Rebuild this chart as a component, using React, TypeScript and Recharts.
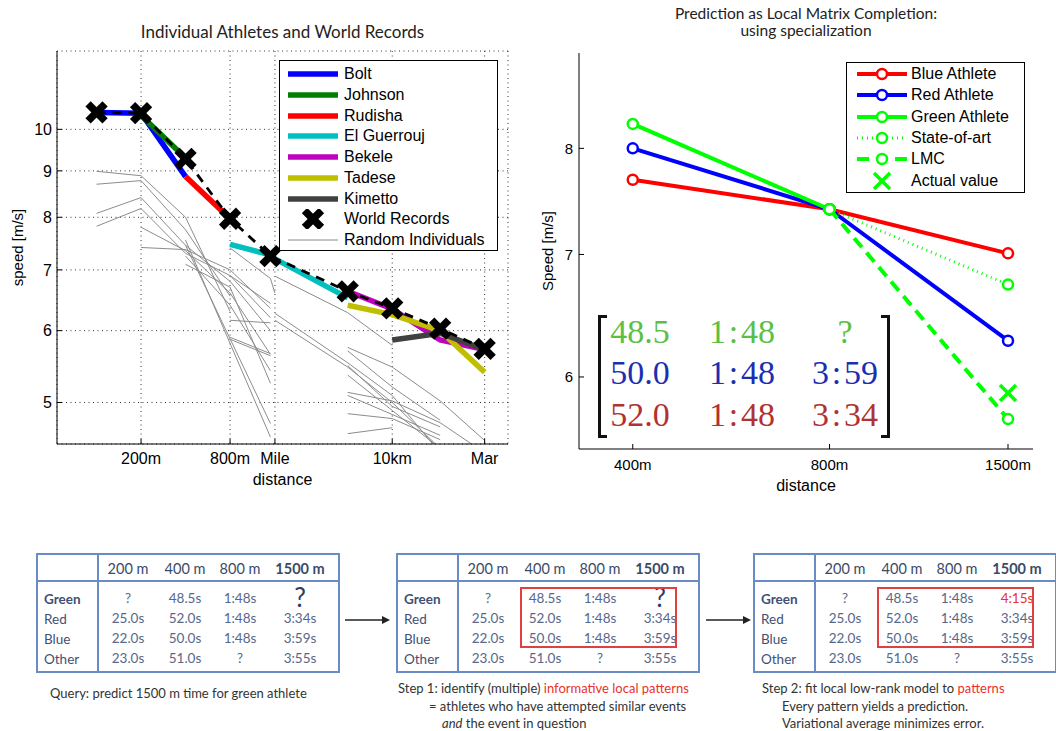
import React from "react";
import {
  ComposedChart,
  Line,
  Scatter,
  XAxis,
  YAxis,
  CartesianGrid,
  Legend,
  Label,
} from "recharts";

// ---------- left panel: distance [m] vs speed [m/s] ----------
const recordDist = [100, 200, 400, 800, 1500, 5000, 10000, 21097, 42195];
const recordSpeed = [10.44, 10.42, 9.28, 7.97, 7.25, 6.63, 6.35, 6.03, 5.73];

const bolt = [[100, 10.44], [200, 10.42], [400, 8.87]];
const johnson = [[200, 10.36], [400, 9.3]];
const rudisha = [[400, 8.87], [800, 7.97]];
const elGuerrouj = [[800, 7.47], [1500, 7.27], [1609, 7.2], [5000, 6.52]];
const bekele = [[5000, 6.63], [10000, 6.34], [21097, 5.86], [42195, 5.72]];
const tadese = [[5000, 6.4], [10000, 6.25], [21097, 6.0], [42195, 5.4]];
const kimetto = [[10000, 5.86], [21097, 5.96], [42195, 5.72]];

const athleteNames = ["Bolt", "Johnson", "Rudisha", "El Guerrouj", "Bekele", "Tadese", "Kimetto"];
const athleteColors = ["#0000ff", "#007f00", "#ff0000", "#00bfbf", "#bf00bf", "#bfbf00", "#404040"];

const randomIndividuals = [
  [[100, 8.99], [200, 8.89], [400, 8.0], [800, 6.3]],
  [[100, 8.7], [200, 8.78], [400, 7.75], [800, 6.55]],
  [[100, 8.08], [200, 8.41], [400, 7.45], [800, 6.8], [1500, 6.0]],
  [[100, 7.82], [200, 8.18], [400, 7.3], [800, 6.9], [1500, 6.2]],
  [[200, 7.8], [400, 7.35], [800, 6.6], [1500, 5.65]],
  [[200, 7.41], [400, 7.37], [800, 7.0], [1500, 6.35]],
  [[400, 7.55], [1500, 4.58]],
  [[400, 7.45], [1500, 4.74]],
  [[400, 7.25], [800, 6.4], [1500, 5.42]],
  [[400, 7.1], [800, 6.7], [1500, 5.25]],
  [[800, 7.4], [1500, 6.85], [1609, 6.6]],
  [[800, 6.16], [1500, 6.12]],
  [[800, 5.9], [1500, 5.66]],
  [[800, 5.87], [1500, 5.63]],
  [[800, 6.9], [1500, 6.43]],
  [[1609, 6.89], [5000, 6.28], [10000, 5.78]],
  [[1609, 6.27], [5000, 5.53], [10000, 5.09], [21097, 4.4]],
  [[1609, 6.16], [5000, 5.47], [10000, 5.0], [21097, 4.45]],
  [[5000, 5.75], [10000, 5.47], [21097, 5.02], [42195, 4.54]],
  [[5000, 5.7], [10000, 5.2], [21097, 4.78]],
  [[5000, 5.49], [10000, 4.95], [21097, 4.7]],
  [[5000, 5.36], [10000, 4.9], [21097, 4.45]],
  [[5000, 5.13], [10000, 5.02], [21097, 4.75], [42195, 4.4]],
  [[5000, 5.09], [10000, 4.85], [21097, 4.6]],
  [[5000, 4.86], [10000, 4.8], [21097, 4.55]],
  [[5000, 4.62], [10000, 4.69]],
];

const leftTicks = [200, 800, 1609, 10000, 42195];
const leftTickLabels = ["200m", "800m", "Mile", "10km", "Mar"];
const leftSpeedTicks = [5, 6, 7, 8, 9, 10];

// ---------- right panel ----------
const rightEvents = [400, 800, 1500];
const rightTickLabels = ["400m", "800m", "1500m"];
const rightSpeedTicks = [6, 7, 8];
const blueAthlete = [7.69, 7.41, 7.01];
const redAthlete = [8.0, 7.41, 6.28];
const greenAthlete = [8.25, 7.41];
const stateOfArt = [[800, 7.41], [1500, 6.74]];
const lmc = [[800, 7.41], [1500, 5.69]];
const actualValue = [[1500, 5.88]];

const matrixGreen = ["48.5", "1\u200a:\u200a48", "?"];
const matrixBlue = ["50.0", "1\u200a:\u200a48", "3\u200a:\u200a59"];
const matrixRed = ["52.0", "1\u200a:\u200a48", "3\u200a:\u200a34"];

// ---------- tables ----------
const tableEvents = ["200 m", "400 m", "800 m", "1500 m"];
const tableRows = ["Green", "Red", "Blue", "Other"];
const greenTimes = ["?", "48.5s", "1:48s", "?"];
const redTimes = ["25.0s", "52.0s", "1:48s", "3:34s"];
const blueTimes = ["22.0s", "50.0s", "1:48s", "3:59s"];
const otherTimes = ["23.0s", "51.0s", "?", "3:55s"];
const predictedGreen = "4:15s";

const pts = (arr: number[][]) => arr.map(([d, v]) => ({ d, v }));
const zipPts = (xs: number[], ys: number[]) => ys.map((v, i) => ({ d: xs[i], v }));

const athleteData = [bolt, johnson, rudisha, elGuerrouj, bekele, tadese, kimetto];

const RecordCross = (props: any) => {
  const { cx, cy } = props;
  const s = 8.5;
  return (
    <g stroke="#000" strokeWidth={7.5}>
      <line x1={cx - s} y1={cy - s} x2={cx + s} y2={cy + s} />
      <line x1={cx - s} y1={cy + s} x2={cx + s} y2={cy - s} />
    </g>
  );
};

const GreenCross = (props: any) => {
  const { cx, cy } = props;
  const s = 8;
  return (
    <g stroke="#00ff00" strokeWidth={3.5}>
      <line x1={cx - s} y1={cy - s} x2={cx + s} y2={cy + s} />
      <line x1={cx - s} y1={cy + s} x2={cx + s} y2={cy - s} />
    </g>
  );
};

const tickFont = { fill: "#000", fontSize: 16 };

function LeftLegend() {
  const row = (i: number, sample: React.ReactNode, text: string) => (
    <div key={text} style={{ position: "absolute", left: 0, top: 3 + i * 20.75, height: 20, display: "flex", alignItems: "center" }}>
      <svg width={64} height={20} style={{ flex: "none" }}>{sample}</svg>
      <span style={{ fontSize: 16, lineHeight: "20px" }}>{text}</span>
    </div>
  );
  return (
    <div style={{ position: "relative", width: 217, height: 189, border: "1px solid #000", background: "#fff" }}>
      {athleteNames.map((n, i) =>
        row(i, <line x1={8} x2={58} y1={10} y2={10} stroke={athleteColors[i]} strokeWidth={5.5} />, n)
      )}
      {row(7, <RecordCross cx={33} cy={10} />, "World Records")}
      {row(8, <line x1={8} x2={58} y1={10} y2={10} stroke="#888" strokeWidth={1} />, "Random Individuals")}
    </div>
  );
}

const rightLegendNames = ["Blue Athlete", "Red Athlete", "Green Athlete", "State-of-art", "LMC", "Actual value"];
const rightLegendColors = ["#ff0000", "#0000ff", "#00ff00", "#00ff00", "#00ff00", "#00ff00"];
const rightLegendDash = ["none", "none", "none", "1 4", "12 7", "none"];

function RightLegend() {
  return (
    <div style={{ position: "relative", width: 177, height: 129, border: "1px solid #000", background: "#fff" }}>
      {rightLegendNames.map((n, i) => (
        <div key={n} style={{ position: "absolute", left: 0, top: 1 + i * 21.3, height: 20, display: "flex", alignItems: "center" }}>
          <svg width={64} height={20} style={{ flex: "none" }}>
            {i < 5 ? (
              <g>
                <line x1={10} x2={60} y1={10} y2={10} stroke={rightLegendColors[i]} strokeWidth={i === 3 ? 3 : 4} strokeDasharray={rightLegendDash[i]} />
                <circle cx={35} cy={10} r={5} fill="#fff" stroke={rightLegendColors[i]} strokeWidth={2.5} />
              </g>
            ) : (
              <GreenCross cx={35} cy={10} />
            )}
          </svg>
          <span style={{ fontSize: 16, lineHeight: "20px" }}>{n}</span>
        </div>
      ))}
    </div>
  );
}

function LeftChart() {
  return (
    <ComposedChart width={520} height={500} margin={{ top: 51, right: 12, bottom: 11, left: 17 }}>
      <CartesianGrid stroke="#333" strokeDasharray="1 3.5" />
      <XAxis
        dataKey="d"
        type="number"
        scale="log"
        domain={[54, 60700]}
        allowDataOverflow
        ticks={leftTicks}
        interval={0}
        tickFormatter={(v: number) => leftTickLabels[leftTicks.indexOf(v)] ?? ""}
        tickSize={-5}
        tickMargin={14}
        height={45}
        stroke="#000"
        tick={tickFont}
      >
        <Label value="distance" position="insideBottom" offset={4} style={{ fontSize: 16, fill: "#000" }} />
      </XAxis>
      <XAxis
        xAxisId="top"
        orientation="top"
        type="number"
        scale="log"
        domain={[54, 60700]}
        allowDataOverflow
        ticks={leftTicks}
        interval={0}
        tickFormatter={() => ""}
        tickSize={-5}
        height={0}
        stroke="#000"
      />
      <YAxis
        dataKey="v"
        type="number"
        scale="log"
        domain={[4.5, 12.2]}
        allowDataOverflow
        ticks={leftSpeedTicks}
        interval={0}
        tickSize={-5}
        tickMargin={10}
        width={40}
        stroke="#000"
        tick={tickFont}
      >
        <Label value="speed [m/s]" angle={-90} position="insideLeft" offset={1} style={{ fontSize: 15, fill: "#000", textAnchor: "middle" }} />
      </YAxis>
      <YAxis
        yAxisId="right"
        orientation="right"
        type="number"
        scale="log"
        domain={[4.5, 12.2]}
        allowDataOverflow
        ticks={leftSpeedTicks}
        interval={0}
        tickFormatter={() => ""}
        tickSize={-5}
        width={0}
        stroke="#000"
      />
      {randomIndividuals.map((r, i) => (
        <Line key={"r" + i} data={pts(r)} dataKey="v" stroke="#8c8c8c" strokeWidth={1} dot={false} isAnimationActive={false} />
      ))}
      {athleteData.map((a, i) => (
        <Line key={athleteNames[i]} data={pts(a)} dataKey="v" stroke={athleteColors[i]} strokeWidth={5.5} dot={false} isAnimationActive={false} />
      ))}
      <Line data={zipPts(recordDist, recordSpeed)} dataKey="v" stroke="#000" strokeWidth={2.8} strokeDasharray="9 7" dot={false} isAnimationActive={false} />
      <Scatter data={zipPts(recordDist, recordSpeed)} dataKey="v" shape={RecordCross} isAnimationActive={false} />
      <Legend
        layout="horizontal"
        verticalAlign="middle"
        align="center"
        content={() => <LeftLegend />}
        wrapperStyle={{ left: 279, top: 60, width: "auto", height: "auto" }}
      />
    </ComposedChart>
  );
}

const dotStyle = (c: string) => ({ r: 5, fill: "#fff", stroke: c, strokeWidth: 2.5, strokeDasharray: "none" });

function RightChart() {
  return (
    <ComposedChart width={536} height={500} margin={{ top: 53, right: 23, bottom: 6, left: 14 }}>
      <XAxis
        dataKey="d"
        type="number"
        scale="log"
        domain={[331, 1638]}
        allowDataOverflow
        ticks={rightEvents}
        interval={0}
        tickFormatter={(v: number) => rightTickLabels[rightEvents.indexOf(v)] ?? ""}
        tickSize={-5}
        tickMargin={15}
        height={45}
        stroke="#000"
        tick={{ fill: "#000", fontSize: 15 }}
      >
        <Label value="distance" position="insideBottom" offset={3} style={{ fontSize: 16, fill: "#000" }} />
      </XAxis>
      <XAxis xAxisId="top" orientation="top" type="number" scale="log" domain={[331, 1638]} allowDataOverflow ticks={rightEvents} interval={0} tickFormatter={() => ""} tickSize={-5} height={0} stroke="#000" />
      <YAxis
        dataKey="v"
        type="number"
        scale="log"
        domain={[5.48, 9.02]}
        allowDataOverflow
        ticks={rightSpeedTicks}
        interval={0}
        tickSize={-5}
        tickMargin={11}
        width={45}
        stroke="#000"
        tick={{ fill: "#000", fontSize: 15 }}
      >
        <Label value="Speed [m/s]" angle={-90} position="insideLeft" offset={14} style={{ fontSize: 15, fill: "#000", textAnchor: "middle" }} />
      </YAxis>
      <YAxis yAxisId="right" orientation="right" type="number" scale="log" domain={[5.48, 9.02]} allowDataOverflow ticks={rightSpeedTicks} interval={0} tickFormatter={() => ""} tickSize={-5} width={0} stroke="#000" />
      <Line data={zipPts(rightEvents, blueAthlete)} dataKey="v" stroke="#ff0000" strokeWidth={4} dot={dotStyle("#ff0000")} isAnimationActive={false} />
      <Line data={zipPts(rightEvents, redAthlete)} dataKey="v" stroke="#0000ff" strokeWidth={4} dot={dotStyle("#0000ff")} isAnimationActive={false} />
      <Line data={pts(stateOfArt)} dataKey="v" stroke="#00ff00" strokeWidth={3} strokeDasharray="1 4" dot={dotStyle("#00ff00")} isAnimationActive={false} />
      <Line data={pts(lmc)} dataKey="v" stroke="#00ff00" strokeWidth={4} strokeDasharray="12 7" dot={dotStyle("#00ff00")} isAnimationActive={false} />
      <Line data={zipPts(rightEvents, greenAthlete)} dataKey="v" stroke="#00ff00" strokeWidth={4} dot={dotStyle("#00ff00")} isAnimationActive={false} />
      <Scatter data={pts(actualValue)} dataKey="v" shape={GreenCross} isAnimationActive={false} />
      <Legend
        layout="horizontal"
        verticalAlign="middle"
        align="center"
        content={() => <RightLegend />}
        wrapperStyle={{ left: 326, top: 62, width: "auto", height: "auto" }}
      />
    </ComposedChart>
  );
}

function Matrix() {
  const rows = [matrixGreen, matrixBlue, matrixRed];
  const colors = ["#5cbf45", "#1c2fb0", "#b03232"];
  const rowY = [17, 58, 100];
  const colX = [42, 144, 247];
  const bracket = { position: "absolute" as const, top: 0, width: 9, height: 123, borderTop: "3px solid #111", borderBottom: "3px solid #111", boxSizing: "border-box" as const };
  return (
    <div style={{ position: "absolute", left: 598, top: 315, width: 292, height: 123, fontFamily: "'Liberation Serif', serif", fontSize: 34 }}>
      <div style={{ ...bracket, left: 0, borderLeft: "3px solid #111" }} />
      <div style={{ ...bracket, right: 0, borderRight: "3px solid #111" }} />
      {rows.map((r, i) =>
        r.map((t, j) => (
          <div key={i + "-" + j} style={{ position: "absolute", left: colX[j], top: rowY[i], transform: "translate(-50%,-50%)", color: colors[i], lineHeight: 1, whiteSpace: "pre" }}>
            {t}
          </div>
        ))
      )}
    </div>
  );
}

const tableBorder = "2px solid #6a8cc4";
const colX = [90, 147, 202, 262];
const rowY = [44, 64, 84, 104];

function TimeTable({ left, box, predicted }: { left: number; box: boolean; predicted: boolean }) {
  const rows = [greenTimes, redTimes, blueTimes, otherTimes];
  return (
    <div style={{ position: "absolute", left, top: 553, width: 304, height: 120, border: tableBorder, boxSizing: "border-box", fontFamily: "Lato, sans-serif", color: "#56678a" }}>
      <div style={{ position: "absolute", left: 59, top: 0, bottom: 0, borderLeft: tableBorder }} />
      <div style={{ position: "absolute", left: 0, right: 0, top: 25, borderTop: tableBorder }} />
      {tableEvents.map((e, i) => (
        <div key={e} style={{ position: "absolute", left: colX[i], top: 13, transform: "translate(-50%,-50%)", fontSize: 14.5, fontWeight: i === 3 ? 700 : 400, color: "#3b4a69", whiteSpace: "nowrap" }}>
          {e}
        </div>
      ))}
      {tableRows.map((n, i) => (
        <div key={n} style={{ position: "absolute", left: 6, top: rowY[i], transform: "translateY(-50%)", fontSize: 13.5, fontWeight: i === 0 ? 700 : 400, color: "#3f5075" }}>
          {n}
        </div>
      ))}
      {rows.map((r, i) =>
        r.map((t, j) => {
          const big = i === 0 && j === 3;
          const bigQ = big && !predicted;
          const txt = big && predicted ? predictedGreen : t;
          return (
            <div key={i + "-" + j} style={{ position: "absolute", left: colX[j], top: rowY[i] + (bigQ ? -2 : 0), transform: "translate(-50%,-50%)", fontSize: bigQ ? 26 : 13.5, color: big ? (predicted ? "#e8322c" : "#2c3c64") : "#56678a", lineHeight: 1, whiteSpace: "nowrap" }}>
              {txt}
            </div>
          );
        })
      )}
      {box && <div style={{ position: "absolute", left: 122, top: 32, width: 157, height: 61, border: "2px solid #e04040", boxSizing: "border-box" }} />}
    </div>
  );
}

function Arrow({ x1, x2, y }: { x1: number; x2: number; y: number }) {
  return (
    <svg style={{ position: "absolute", left: x1, top: y - 6 }} width={x2 - x1} height={12}>
      <line x1={0} x2={x2 - x1 - 6} y1={6} y2={6} stroke="#222" strokeWidth={1.5} />
      <polygon points={`${x2 - x1},6 ${x2 - x1 - 8},2 ${x2 - x1 - 8},10`} fill="#222" />
    </svg>
  );
}

const caption = { position: "absolute" as const, fontFamily: "Lato, sans-serif", fontSize: 13, color: "#333", whiteSpace: "nowrap" as const, lineHeight: "13px" };

export default function App() {
  return (
    <div style={{ position: "absolute", left: 0, top: 0, width: 1056, height: 731, background: "#fff", overflow: "hidden", fontFamily: "'Liberation Sans', Arial, sans-serif" }}>
      <div style={{ position: "absolute", left: 57, width: 451, top: 21, textAlign: "center", fontFamily: "Lato, sans-serif", fontSize: 17, color: "#222" }}>
        Individual Athletes and World Records
      </div>
      <div style={{ position: "absolute", left: 579, width: 454, top: 5, textAlign: "center", fontFamily: "Lato, sans-serif", fontSize: 15.5, lineHeight: "17px", color: "#222" }}>
        Prediction as Local Matrix Completion:
        <br />
        using specialization
      </div>
      <div style={{ position: "absolute", left: 0, top: 0 }}>
        <LeftChart />
      </div>
      <div style={{ position: "absolute", left: 520, top: 0 }}>
        <RightChart />
      </div>
      <Matrix />

      <TimeTable left={36} box={false} predicted={false} />
      <TimeTable left={396} box={true} predicted={false} />
      <TimeTable left={753} box={true} predicted={true} />
      <Arrow x1={345} x2={390} y={620} />
      <Arrow x1={706} x2={751} y={620} />

      <div style={{ ...caption, left: 50, top: 687 }}>Query: predict 1500 m time for green athlete</div>
      <div style={{ ...caption, left: 398, top: 682 }}>
        Step 1: identify (multiple) <span style={{ color: "#e8322c" }}>informative local patterns</span>
      </div>
      <div style={{ ...caption, left: 429, top: 700 }}>= athletes who have attempted similar events</div>
      <div style={{ ...caption, left: 442, top: 717 }}>
        <i>and</i> the event in question
      </div>
      <div style={{ ...caption, left: 762, top: 682 }}>
        Step 2: fit local low-rank model to <span style={{ color: "#e8322c" }}>patterns</span>
      </div>
      <div style={{ ...caption, left: 782, top: 700 }}>Every pattern yields a prediction.</div>
      <div style={{ ...caption, left: 782, top: 717 }}>Variational average minimizes error.</div>
    </div>
  );
}
